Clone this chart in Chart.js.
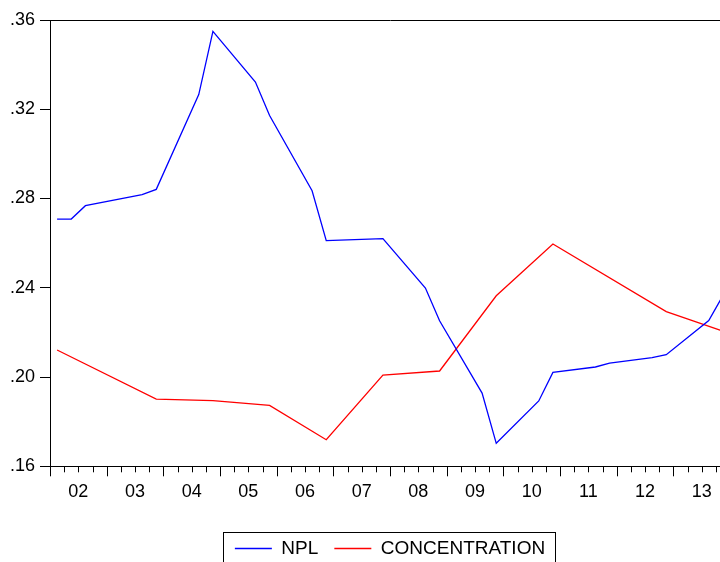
<!DOCTYPE html>
<html>
<head>
<meta charset="utf-8">
<script src="https://cdn.jsdelivr.net/npm/chart.js@4.4.1/dist/chart.umd.min.js"></script>
<style>
  html, body { margin: 0; padding: 0; background: #ffffff; overflow: hidden; }
  #wrap { width: 720px; height: 562px; overflow: hidden; position: relative; }
  canvas { display: block; }
</style>
</head>
<body>
<div id="wrap"><canvas id="c" width="740" height="573"></canvas></div>
<script>
const quarters = [
  '2002Q1','2002Q2','2002Q3','2002Q4','2003Q1','2003Q2','2003Q3','2003Q4',
  '2004Q1','2004Q2','2004Q3','2004Q4','2005Q1','2005Q2','2005Q3','2005Q4',
  '2006Q1','2006Q2','2006Q3','2006Q4','2007Q1','2007Q2','2007Q3','2007Q4',
  '2008Q1','2008Q2','2008Q3','2008Q4','2009Q1','2009Q2','2009Q3','2009Q4',
  '2010Q1','2010Q2','2010Q3','2010Q4','2011Q1','2011Q2','2011Q3','2011Q4',
  '2012Q1','2012Q2','2012Q3','2012Q4','2013Q1','2013Q2','2013Q3','2013Q4'
];
const npl = [
  0.2708, 0.2708, 0.2768, null,   null,   null,   0.2817, 0.2841,
  null,   null,   0.3266, 0.3549, null,   null,   0.3322, 0.3172,
  null,   null,   0.2835, 0.2611, null,   null,   null,   0.2620,
  null,   null,   0.2399, 0.2252, null,   null,   0.1928, 0.1703,
  null,   null,   0.1893, 0.2021, null,   null,   0.2045, 0.2062,
  null,   null,   0.2087, 0.2100, null,   null,   0.2253, 0.2365
];
const concentration = [
  0.2121, null,   null,   null,   null,   null,   null,   0.1901,
  null,   null,   null,   0.1894, null,   null,   null,   0.1873,
  null,   null,   null,   0.1719, null,   null,   null,   0.2009,
  null,   null,   null,   0.2027, null,   null,   null,   0.2364,
  null,   null,   null,   0.2596, null,   null,   null,   null,
  null,   null,   null,   0.2293, null,   null,   null,   0.2206
];
const years = [2002,2003,2004,2005,2006,2007,2008,2009,2010,2011,2012,2013];
const yearLabels = ['02','03','04','05','06','07','08','09','10','11','12','13'];
const yTicks = [0.16, 0.20, 0.24, 0.28, 0.32, 0.36];

function quarterToX(q) {
  const y = parseInt(q.slice(0, 4), 10);
  const n = parseInt(q.slice(5), 10);
  return y + (n - 1) / 4 + 0.125;
}
function toPoints(values) {
  return quarters.map((q, i) => ({ x: quarterToX(q), y: values[i] }));
}

const FONT = "'Liberation Sans', Arial, Helvetica, sans-serif";

const frameAndTicks = {
  id: 'frameAndTicks',
  afterDraw(chart) {
    const ctx = chart.ctx;
    const a = chart.chartArea;
    const xs = chart.scales.x;
    ctx.save();
    ctx.strokeStyle = '#000';
    ctx.lineWidth = 1;
    // top and right frame
    ctx.beginPath();
    ctx.moveTo(Math.round(a.left) + 0.5, Math.round(a.top) + 0.5);
    ctx.lineTo(Math.round(a.right) + 0.5, Math.round(a.top) + 0.5);
    ctx.lineTo(Math.round(a.right) + 0.5, Math.round(a.bottom) + 0.5);
    ctx.stroke();
    // quarter tick marks on the x axis (outward)
    const first = years[0];
    const nQ = years.length * 4;
    ctx.beginPath();
    for (let q = 0; q <= nQ; q++) {
      const px = Math.round(xs.getPixelForValue(first + q / 4)) + 0.5;
      const len = (q % 4 === 0) ? 10 : 6;
      ctx.moveTo(px, a.bottom);
      ctx.lineTo(px, a.bottom + len);
    }
    ctx.stroke();
    // legend border box
    const lg = chart.legend;
    if (lg && lg.legendHitBoxes && lg.legendHitBoxes.length) {
      const hb = lg.legendHitBoxes;
      let l = Infinity, r = -Infinity, cy = 0;
      hb.forEach(h => { l = Math.min(l, h.left); r = Math.max(r, h.left + h.width); cy = h.top + h.height / 2; });
      ctx.strokeRect(Math.round(l - 12) + 0.5, Math.round(cy - 17) + 0.5, Math.round(r - l + 22), 34);
    }
    ctx.restore();
  }
};

new Chart(document.getElementById('c'), {
  type: 'line',
  data: {
    datasets: [
      {
        label: 'NPL',
        data: toPoints(npl),
        borderColor: '#0000ff',
        backgroundColor: '#0000ff',
        borderWidth: 1.3,
        pointRadius: 0,
        pointStyle: 'line',
        tension: 0,
        spanGaps: true
      },
      {
        label: 'CONCENTRATION',
        data: toPoints(concentration),
        borderColor: '#ff0000',
        backgroundColor: '#ff0000',
        borderWidth: 1.3,
        pointRadius: 0,
        pointStyle: 'line',
        tension: 0,
        spanGaps: true
      }
    ]
  },
  options: {
    responsive: false,
    animation: false,
    devicePixelRatio: 1,
    layout: { padding: { top: 20, right: 10, bottom: 5, left: 0 } },
    plugins: {
      legend: {
        display: true,
        position: 'bottom',
        fullSize: false,
        labels: {
          usePointStyle: true,
          pointStyleWidth: 37,
          boxHeight: 19,
          padding: 16,
          color: '#000',
          font: { family: FONT, size: 19 }
        }
      },
      tooltip: { enabled: false }
    },
    scales: {
      x: {
        type: 'linear',
        min: years[0],
        max: years[years.length - 1] + 1,
        afterBuildTicks(s) { s.ticks = years.map(y => ({ value: y + 0.5 })); },
        afterFit(s) { s.height = 56.7; },
        grid: { display: true, drawOnChartArea: false, drawTicks: false },
        border: { display: true, color: '#000', width: 1 },
        ticks: {
          padding: 15,
          autoSkip: false,
          maxRotation: 0,
          color: '#000',
          font: { family: FONT, size: 18 },
          callback(v) {
            const i = years.indexOf(Math.round(v - 0.5));
            return i >= 0 ? yearLabels[i] : '';
          }
        }
      },
      y: {
        type: 'linear',
        min: 0.16,
        max: 0.36,
        afterBuildTicks(s) { s.ticks = yTicks.map(v => ({ value: v })); },
        afterFit(s) { s.width = 50; },
        grid: { display: true, drawOnChartArea: false, drawTicks: true, tickLength: 10, tickColor: '#000' },
        border: { display: true, color: '#000', width: 1 },
        ticks: {
          padding: 5,
          color: '#000',
          font: { family: FONT, size: 18 },
          callback(v) { return v.toFixed(2).replace(/^0/, ''); }
        }
      }
    }
  },
  plugins: [frameAndTicks]
});
</script>
</body>
</html>
